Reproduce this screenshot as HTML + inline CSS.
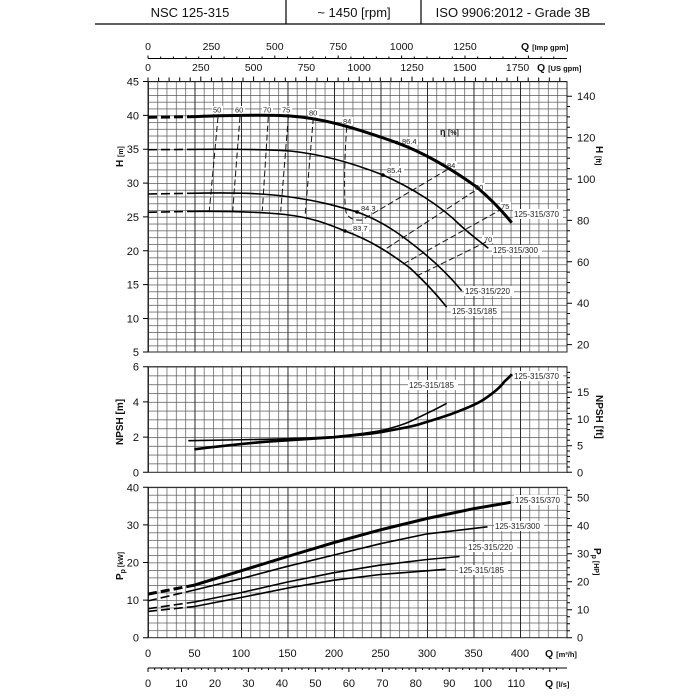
<!DOCTYPE html>
<html><head><meta charset="utf-8"><style>
html,body{margin:0;padding:0;background:#fff;}
svg{display:block;font-family:"Liberation Sans",sans-serif;}
</style></head><body>
<svg width="700" height="700" viewBox="0 0 700 700" xmlns="http://www.w3.org/2000/svg">
<defs>
<pattern id="gv" x="148" y="0" width="9.3" height="700" patternUnits="userSpaceOnUse"><line x1="0.3" y1="0" x2="0.3" y2="700" stroke="#555" stroke-width="0.8"/></pattern>
<pattern id="gv5" x="148" y="0" width="46.5" height="700" patternUnits="userSpaceOnUse"><line x1="0.4" y1="0" x2="0.4" y2="700" stroke="#222" stroke-width="1.1"/></pattern>
<pattern id="gh1" x="0" y="81.5" width="700" height="6.77" patternUnits="userSpaceOnUse"><line x1="0" y1="0.3" x2="700" y2="0.3" stroke="#555" stroke-width="0.8"/></pattern>
<pattern id="gh2" x="0" y="366.7" width="700" height="8.8" patternUnits="userSpaceOnUse"><line x1="0" y1="0.3" x2="700" y2="0.3" stroke="#555" stroke-width="0.8"/></pattern>
<pattern id="gh3" x="0" y="487.3" width="700" height="7.52" patternUnits="userSpaceOnUse"><line x1="0" y1="0.3" x2="700" y2="0.3" stroke="#555" stroke-width="0.8"/></pattern>
</defs>

<!-- header -->
<line x1="95" y1="24" x2="605" y2="24" stroke="#000" stroke-width="1.2"/>
<line x1="286" y1="0" x2="286" y2="24" stroke="#000" stroke-width="1.2"/>
<line x1="421" y1="0" x2="421" y2="24" stroke="#000" stroke-width="1.2"/>
<g font-size="13" text-anchor="middle" fill="#111">
<text x="190" y="17">NSC 125-315</text>
<text x="354" y="17">~ 1450 [rpm]</text>
<text x="513" y="17">ISO 9906:2012 - Grade 3B</text>
</g>

<!-- top axes -->
<line x1="148" y1="58.5" x2="567" y2="58.5" stroke="#000" stroke-width="1"/>
<g stroke="#000" stroke-width="1">
<path d="M148,58.5v-3M160.7,58.5v-2M173.4,58.5v-2M186,58.5v-2M198.7,58.5v-2M211.4,58.5v-3M224.1,58.5v-2M236.8,58.5v-2M249.5,58.5v-2M262.1,58.5v-2M274.8,58.5v-3M287.5,58.5v-2M300.2,58.5v-2M312.9,58.5v-2M325.5,58.5v-2M338.2,58.5v-3M350.9,58.5v-2M363.6,58.5v-2M376.3,58.5v-2M388.9,58.5v-2M401.6,58.5v-3M414.3,58.5v-2M427,58.5v-2M439.7,58.5v-2M452.3,58.5v-2M465,58.5v-3M477.7,58.5v-2M490.4,58.5v-2M503,58.5v-2M515.7,58.5v-2M528.4,58.5v-3M541.1,58.5v-2M553.8,58.5v-2"/>
</g>
<g font-size="10.5" text-anchor="middle" fill="#111">
<text x="148" y="50">0</text><text x="211.4" y="50">250</text><text x="274.8" y="50">500</text><text x="338.2" y="50">750</text><text x="401.6" y="50">1000</text><text x="465" y="50">1250</text>
<text x="148" y="71">0</text><text x="200.8" y="71">250</text><text x="253.6" y="71">500</text><text x="306.4" y="71">750</text><text x="359.2" y="71">1000</text><text x="412" y="71">1250</text><text x="464.8" y="71">1500</text><text x="517.6" y="71">1750</text>
</g>
<text x="521" y="50" font-size="10.5" font-weight="bold" fill="#111">Q <tspan font-size="7.5">[Imp gpm]</tspan></text>
<text x="537" y="71" font-size="10.5" font-weight="bold" fill="#111">Q <tspan font-size="7.5">[US gpm]</tspan></text>
<g stroke="#000" stroke-width="1">
<path d="M148,81.5v-4M158.6,81.5v-4M169.1,81.5v-4M179.7,81.5v-4M190.2,81.5v-4M200.8,81.5v-5M211.4,81.5v-4M221.9,81.5v-4M232.5,81.5v-4M243,81.5v-4M253.6,81.5v-5M264.2,81.5v-4M274.7,81.5v-4M285.3,81.5v-4M295.8,81.5v-4M306.4,81.5v-5M317,81.5v-4M327.5,81.5v-4M338.1,81.5v-4M348.6,81.5v-4M359.2,81.5v-5M369.8,81.5v-4M380.3,81.5v-4M390.9,81.5v-4M401.4,81.5v-4M412,81.5v-5M422.6,81.5v-4M433.1,81.5v-4M443.7,81.5v-4M454.2,81.5v-4M464.8,81.5v-5M475.4,81.5v-4M485.9,81.5v-4M496.5,81.5v-4M507,81.5v-4M517.6,81.5v-5M528.2,81.5v-4M538.7,81.5v-4M549.3,81.5v-4M559.8,81.5v-4"/>
</g>

<!-- panels grid -->
<rect x="148" y="81.5" width="419" height="270.5" fill="url(#gh1)"/>
<rect x="148" y="81.5" width="419" height="270.5" fill="url(#gv)"/>
<rect x="148" y="81.5" width="419" height="270.5" fill="url(#gv5)"/>
<rect x="148" y="81.5" width="419" height="270.5" fill="none" stroke="#222" stroke-width="1"/>

<rect x="148" y="366.7" width="419" height="105.6" fill="url(#gh2)"/>
<rect x="148" y="366.7" width="419" height="105.6" fill="url(#gv)"/>
<rect x="148" y="366.7" width="419" height="105.6" fill="url(#gv5)"/>
<rect x="148" y="366.7" width="419" height="105.6" fill="none" stroke="#222" stroke-width="1"/>

<rect x="148" y="487.3" width="419" height="150.4" fill="url(#gh3)"/>
<rect x="148" y="487.3" width="419" height="150.4" fill="url(#gv)"/>
<rect x="148" y="487.3" width="419" height="150.4" fill="url(#gv5)"/>
<rect x="148" y="487.3" width="419" height="150.4" fill="none" stroke="#222" stroke-width="1"/>

<!-- left ticks & labels -->
<g stroke="#000" stroke-width="1">
<path d="M143,81.5h5M143,115.4h5M143,149.2h5M143,183.1h5M143,216.9h5M143,250.8h5M143,284.6h5M143,318.5h5M143,352h5"/>
<path d="M143,366.7h5M143,401.9h5M143,437.1h5M143,472.3h5"/>
<path d="M143,487.3h5M143,524.9h5M143,562.5h5M143,600.1h5M143,637.7h5"/>
</g>
<g font-size="11" text-anchor="end" fill="#111">
<text x="139" y="85.5">45</text><text x="139" y="119.4">40</text><text x="139" y="153.2">35</text><text x="139" y="187.1">30</text><text x="139" y="220.9">25</text><text x="139" y="254.8">20</text><text x="139" y="288.6">15</text><text x="139" y="322.5">10</text><text x="139" y="356">5</text>
<text x="139" y="370.7">6</text><text x="139" y="405.9">4</text><text x="139" y="441.1">2</text><text x="139" y="476.3">0</text>
<text x="139" y="491.3">40</text><text x="139" y="528.9">30</text><text x="139" y="566.5">20</text><text x="139" y="604.1">10</text><text x="139" y="641.7">0</text>
</g>
<text transform="translate(123,167) rotate(-90)" font-size="10" font-weight="bold" fill="#111">H <tspan font-size="7">[m]</tspan></text>
<text transform="translate(123,445) rotate(-90)" font-size="10" font-weight="bold" fill="#111">NPSH [m]</text>
<text transform="translate(123,580) rotate(-90)" font-size="10" font-weight="bold" fill="#111">P<tspan font-size="7" dy="2">p</tspan><tspan dy="-2" font-size="7"> [kW]</tspan></text>

<!-- right ticks & labels -->
<g stroke="#000" stroke-width="1">
<path d="M567,96.2h5M567,137.6h5M567,179h5M567,220.4h5M567,261.8h5M567,303.2h5M567,344.6h5"/>
<path d="M567,116.9h3M567,158.3h3M567,199.7h3M567,241.1h3M567,282.5h3M567,323.9h3M567,106.5h3M567,127.2h3M567,147.9h3M567,168.6h3M567,189.3h3M567,210h3M567,230.7h3M567,251.4h3M567,272.1h3M567,292.8h3M567,313.5h3M567,334.2h3"/>
<path d="M567,392.1h5M567,418.9h5M567,445.7h5M567,472.3h5M567,372.4h3M567,377.6h3M567,382.9h3M567,387.4h3M567,397.5h3M567,402.8h3M567,408.2h3M567,413.5h3M567,424.3h3M567,429.6h3M567,435h3M567,440.3h3M567,451h3M567,456.4h3M567,461.7h3M567,467h3"/>
<path d="M567,497.3h5M567,525.7h5M567,553.7h5M567,581.7h5M567,609.7h5M567,637.7h5M567,511.5h3M567,539.7h3M567,567.7h3M567,595.7h3M567,623.7h3M567,490.3h3M567,504.3h3M567,518.5h3M567,532.7h3M567,546.7h3M567,560.7h3M567,574.7h3M567,588.7h3M567,602.7h3M567,616.7h3M567,630.7h3"/>
</g>
<g font-size="11" fill="#111">
<text x="577" y="100.2">140</text><text x="577" y="141.6">120</text><text x="577" y="183">100</text><text x="577" y="224.4">80</text><text x="577" y="265.8">60</text><text x="577" y="307.2">40</text><text x="577" y="348.6">20</text>
<text x="577" y="396.1">15</text><text x="577" y="422.9">10</text><text x="577" y="449.7">5</text><text x="577" y="476.3">0</text>
<text x="577" y="501.3">50</text><text x="577" y="529.7">40</text><text x="577" y="557.7">30</text><text x="577" y="585.7">20</text><text x="577" y="613.7">10</text><text x="577" y="641.7">0</text>
</g>
<text transform="translate(596,146) rotate(90)" font-size="10" font-weight="bold" fill="#111">H <tspan font-size="7">[ft]</tspan></text>
<text transform="translate(596,395) rotate(90)" font-size="10" font-weight="bold" fill="#111">NPSH [ft]</text>
<text transform="translate(594,548) rotate(90)" font-size="10" font-weight="bold" fill="#111">P<tspan font-size="7" dy="2">p</tspan><tspan dy="-2" font-size="7"> [HP]</tspan></text>

<!-- bottom axes -->
<g font-size="11" text-anchor="middle" fill="#111">
<text x="148" y="657">0</text><text x="194.5" y="657">50</text><text x="241" y="657">100</text><text x="287.5" y="657">150</text><text x="334" y="657">200</text><text x="380.5" y="657">250</text><text x="427" y="657">300</text><text x="473.5" y="657">350</text><text x="520" y="657">400</text>
<text x="148" y="687">0</text><text x="181.5" y="687">10</text><text x="215" y="687">20</text><text x="248.4" y="687">30</text><text x="281.9" y="687">40</text><text x="315.4" y="687">50</text><text x="348.9" y="687">60</text><text x="382.4" y="687">70</text><text x="415.8" y="687">80</text><text x="449.3" y="687">90</text><text x="482.8" y="687">100</text><text x="516.3" y="687">110</text>
</g>
<text x="545" y="657" font-size="10.5" font-weight="bold" fill="#111">Q <tspan font-size="7.5">[m³/h]</tspan></text>
<text x="545" y="687" font-size="10.5" font-weight="bold" fill="#111">Q <tspan font-size="7.5">[l/s]</tspan></text>
<line x1="148" y1="668" x2="567" y2="668" stroke="#000" stroke-width="1"/>
<g stroke="#000" stroke-width="1">
<path d="M148,668v4M181.5,668v4M215,668v4M248.4,668v4M281.9,668v4M315.4,668v4M348.9,668v4M382.4,668v4M415.8,668v4M449.3,668v4M482.8,668v4M516.3,668v4M549.8,668v4"/>
<path d="M154.7,668v2M161.4,668v2M168.1,668v2M174.8,668v2M188.2,668v2M194.9,668v2M201.6,668v2M208.3,668v2M221.7,668v2M228.4,668v2M235.1,668v2M241.8,668v2M255.1,668v2M261.8,668v2M268.5,668v2M275.2,668v2M288.6,668v2M295.3,668v2M302,668v2M308.7,668v2M322.1,668v2M328.8,668v2M335.5,668v2M342.2,668v2M355.6,668v2M362.3,668v2M369,668v2M375.7,668v2M389.1,668v2M395.8,668v2M402.5,668v2M409.1,668v2M422.5,668v2M429.2,668v2M435.9,668v2M442.6,668v2M456,668v2M462.7,668v2M469.4,668v2M476.1,668v2M489.5,668v2M496.2,668v2M502.9,668v2M509.6,668v2M523,668v2M529.7,668v2M536.4,668v2M543.1,668v2M556.5,668v2"/>
</g>

<!-- label backgrounds (under curves) -->
<g fill="#fff"><rect x="212" y="106" width="11" height="8"/><rect x="234" y="106" width="11" height="8"/><rect x="262" y="106" width="11" height="8"/><rect x="281" y="106" width="11" height="8"/><rect x="308" y="109" width="11" height="8"/><rect x="342" y="117" width="11" height="8"/><rect x="401" y="137" width="17" height="8"/><rect x="387" y="166" width="17" height="8"/><rect x="360" y="204" width="17" height="8"/><rect x="352" y="224" width="17" height="8"/><rect x="446" y="161" width="11" height="8"/><rect x="474" y="183" width="11" height="8"/><rect x="500" y="202" width="11" height="8"/><rect x="482" y="235" width="11" height="8"/></g>

<!-- efficiency isolines -->
<g fill="none" stroke="#111" stroke-width="1" stroke-dasharray="6,3">
<path d="M218,117 L209.3,211"/>
<path d="M240,116.7 L232.7,211"/>
<path d="M268.3,116.7 L262.3,211"/>
<path d="M288.3,117 L280.7,211.7"/>
<path d="M313.3,118 L305,216.7"/>
<path d="M346.7,126.7 C344,165 344,200 346,212 Q349,221 362,220 L450,168"/>
<path d="M386.7,248.3 L476,190"/>
<path d="M403.3,264 L502,209"/>
<path d="M416.7,276 L486,242"/>
</g>

<!-- H curves -->
<g fill="none" stroke="#000" stroke-linecap="butt" stroke-linejoin="round">
<path d="M148,117.3 L195,116.6" stroke-width="3" stroke-dasharray="9,4"/>
<path d="M195,116.6 C230,115.3 270,115 290,116 C320,118 350,126 396.7,142.7 C430,155 460,175 476.7,187 C492,200 503,212 511.7,222.7" stroke-width="3"/>
<path d="M148,149.7 L190,149.4" stroke-width="1.6" stroke-dasharray="9,4"/>
<path d="M190,149.4 C230,149 270,149.5 290,151 C320,154 350,162 383,175 C410,187 440,205 460,225 C472,236 482,243 488.3,248.3" stroke-width="1.6"/>
<path d="M148,194 L190,193.3" stroke-width="1.6" stroke-dasharray="9,4"/>
<path d="M190,193.3 C230,192.3 265,193 290,197 C320,201 340,207 357,212 C385,222 405,238 420,250 C440,266 452,279 461.7,290.7" stroke-width="1.6"/>
<path d="M148,212.3 L190,211.4" stroke-width="1.6" stroke-dasharray="9,4"/>
<path d="M190,211.4 C230,211 260,212 285,214.5 C315,218 330,225 345,231 C370,240 390,253 410,268 C425,282 438,296 446.7,307.3" stroke-width="1.6"/>
</g>
<g fill="#000">
<circle cx="396.5" cy="142.5" r="1.8"/><circle cx="383" cy="175" r="1.8"/><circle cx="357" cy="212" r="1.8"/><circle cx="345" cy="231" r="1.8"/>
</g>
<g font-size="7.5" fill="#222">
<text x="213" y="112.5">50</text><text x="235" y="112.5">60</text><text x="263" y="112.5">70</text><text x="282" y="112.5">75</text><text x="309" y="115.5">80</text><text x="343" y="124">84</text>
<text x="402" y="144">86.4</text><text x="387" y="173">85.4</text><text x="361" y="211">84.3</text><text x="353" y="231">83.7</text>
<text x="447" y="168">84</text><text x="475" y="190">80</text><text x="501" y="209">75</text><text x="484" y="242">70</text>
</g>
<text x="440" y="135" font-size="9" font-weight="bold" fill="#111">η <tspan font-size="7">[%]</tspan></text>
<g font-size="8" fill="#222">
<rect x="513" y="209" width="50" height="10" fill="#fff"/><text x="514" y="217">125-315/370</text>
<rect x="492" y="245" width="50" height="10" fill="#fff"/><text x="493" y="253">125-315/300</text>
<rect x="464" y="286" width="50" height="10" fill="#fff"/><text x="465" y="294">125-315/220</text>
<rect x="451" y="306" width="50" height="10" fill="#fff"/><text x="452" y="314">125-315/185</text>
</g>

<!-- NPSH curves -->
<g fill="none" stroke="#000" stroke-linejoin="round">
<path d="M188.3,440.7 C230,440 250,439.6 266.7,439.3 C300,438.5 320,437.5 333.3,436.7 C360,434 375,432 383.3,430 C400,426 410,422 416.7,418.3 C430,412 440,407 446.7,403.3" stroke-width="1.6"/>
<path d="M194.3,449.3 C230,445 250,443 266.7,441.7 C300,439.5 320,438.3 333.3,437.3 C360,435 375,433.5 383.3,431.7 C400,428.5 410,427 416.7,425 C430,421 440,418 450,414.5 C465,409 475,405 483,400 C492,394 500,388 504,382 C507,379 510,377 511.7,374" stroke-width="2.6"/>
</g>
<g font-size="8" fill="#222">
<rect x="408" y="380" width="50" height="10" fill="#fff"/><text x="409" y="388">125-315/185</text>
<rect x="513" y="371" width="50" height="10" fill="#fff"/><text x="514" y="379">125-315/370</text>
</g>

<!-- Power curves -->
<g fill="none" stroke="#000" stroke-linejoin="round">
<path d="M148,594.1 L194.5,585.1" stroke-width="3" stroke-dasharray="9,4"/>
<path d="M194.5,585.1 L241,570.8 L287.5,556.5 L334,542.6 L380.5,529.8 L427,518.5 L473.5,508.7 L510.7,502.3" stroke-width="3"/>
<path d="M148,600.9 L194.5,590" stroke-width="1.6" stroke-dasharray="9,4"/>
<path d="M194.5,590 L241,578.7 L287.5,566.3 L334,555 L380.5,543.7 L427,533.9 L487.5,526.8" stroke-width="1.6"/>
<path d="M148,608.7 L194.5,602" stroke-width="1.6" stroke-dasharray="9,4"/>
<path d="M194.5,602 L241,592.6 L287.5,582 L334,572.7 L380.5,565.1 L427,559.5 L459.6,556.5" stroke-width="1.6"/>
<path d="M148,611.4 L194.5,606.5" stroke-width="1.6" stroke-dasharray="9,4"/>
<path d="M194.5,606.5 L241,597.5 L287.5,588.1 L334,580.2 L380.5,574.5 L427,570.8 L445.6,569.3" stroke-width="1.6"/>
</g>
<g font-size="8" fill="#222">
<rect x="514" y="495" width="50" height="10" fill="#fff"/><text x="515" y="503">125-315/370</text>
<rect x="494" y="521" width="50" height="10" fill="#fff"/><text x="495" y="529">125-315/300</text>
<rect x="467" y="542" width="50" height="10" fill="#fff"/><text x="468" y="550">125-315/220</text>
<rect x="458" y="565" width="50" height="10" fill="#fff"/><text x="459" y="573">125-315/185</text>
</g>
</svg>
</body></html>
